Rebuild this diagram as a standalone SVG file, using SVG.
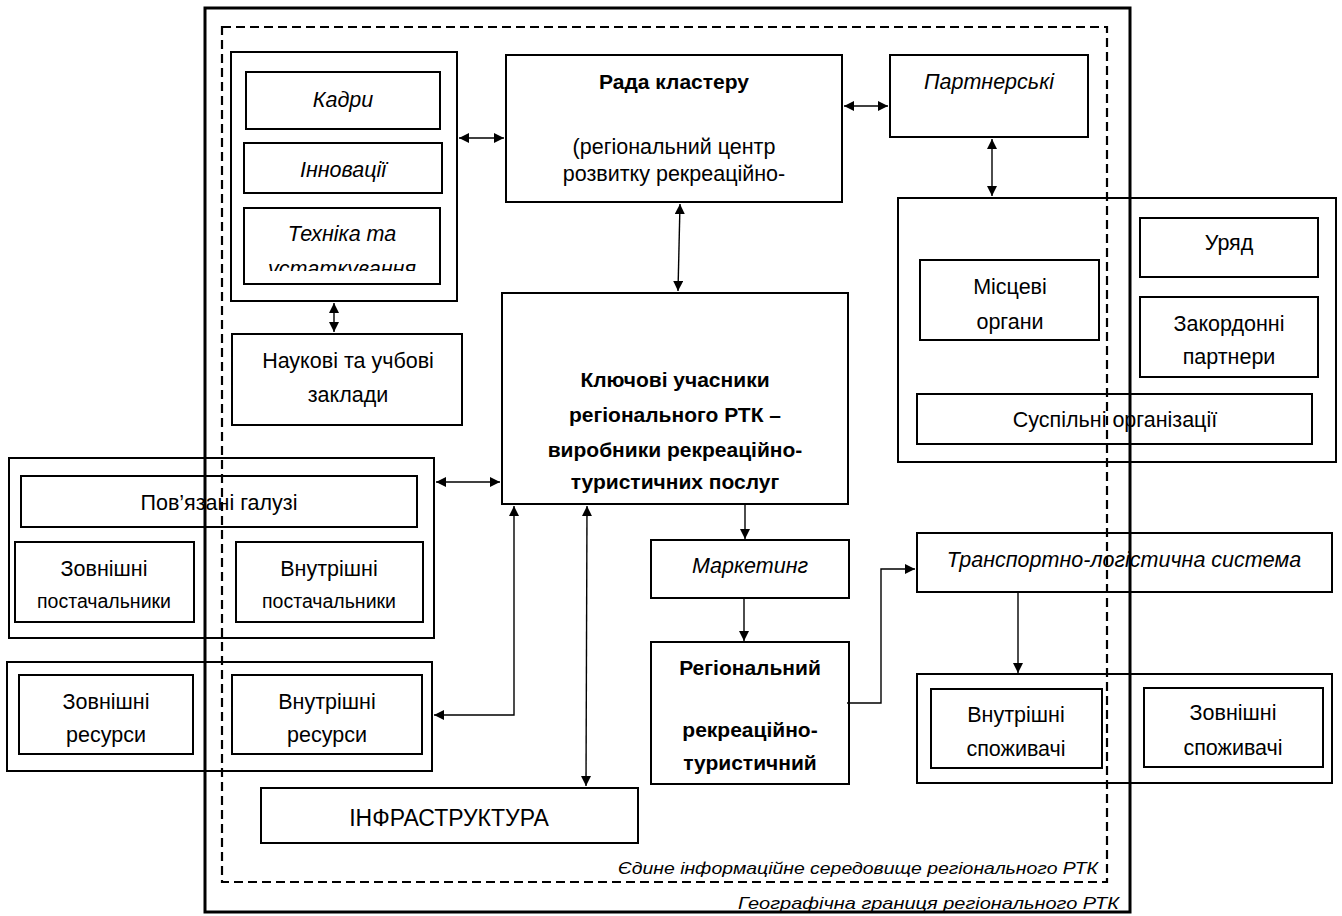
<svg xmlns="http://www.w3.org/2000/svg" width="1342" height="916" viewBox="0 0 1342 916">
<style>
.b{fill:none;stroke:#000;stroke-width:2}
.t{font-family:"Liberation Sans",Arial,sans-serif;font-size:21.5px;fill:#000;text-anchor:middle}
.i{font-style:italic}
.bd{font-weight:bold;font-size:21px}
.c{fill:none;stroke:#000;stroke-width:1.4}
</style>
<defs>
<marker id="ar" markerUnits="userSpaceOnUse" markerWidth="11" markerHeight="10" refX="10" refY="5" orient="auto-start-reverse" viewBox="0 0 10 10">
<path d="M0,0 L10,5 L0,10 z" fill="#000"/>
</marker>
<clipPath id="clipT"><rect x="244" y="208" width="196" height="63"/></clipPath>
</defs>
<rect width="1342" height="916" fill="#fff"/>

<g id="resources-group">
<rect class="b" x="231" y="52" width="226" height="249"/>
</g>
<g id="kadry"><rect class="b" x="246" y="72" width="194" height="57"/><text class="t i" x="343" y="107">Кадри</text></g>
<g id="innovations"><rect class="b" x="244" y="143" width="198" height="50"/><text class="t i" x="343" y="177">Інновації</text></g>
<g id="equipment"><rect class="b" x="244" y="208" width="196" height="76"/>
<g clip-path="url(#clipT)"><text class="t i" x="342" y="241">Техніка та</text><text class="t i" x="342" y="276">устаткування</text></g></g>

<g id="rada"><rect class="b" x="506" y="55" width="336" height="147"/>
<text class="t bd" x="674" y="89">Рада кластеру</text>
<text class="t" x="674" y="154">(регіональний центр</text>
<text class="t" x="674" y="181">розвитку рекреаційно-</text></g>

<g id="partners"><rect class="b" x="890" y="55" width="198" height="82"/><text class="t i" x="989" y="89">Партнерські</text></g>

<g id="science"><rect class="b" x="232" y="334" width="230" height="91"/>
<text class="t" x="348" y="368">Наукові та учбові</text><text class="t" x="348" y="402">заклади</text></g>

<g id="key"><rect class="b" x="502" y="293" width="346" height="211"/>
<text class="t bd" x="675" y="387">Ключові учасники</text>
<text class="t bd" x="675" y="422">регіонального РТК –</text>
<text class="t bd" x="675" y="457">виробники рекреаційно-</text>
<text class="t bd" x="675" y="489">туристичних послуг</text></g>

<g id="gov-group"><rect class="b" x="898" y="198" width="438" height="264"/></g>
<g id="local"><rect class="b" x="920" y="260" width="179" height="80"/>
<text class="t" x="1010" y="294">Місцеві</text><text class="t" x="1010" y="329">органи</text></g>
<g id="govt"><rect class="b" x="1140" y="218" width="178" height="59"/><text class="t" x="1229" y="250">Уряд</text></g>
<g id="foreign"><rect class="b" x="1140" y="297" width="178" height="80"/>
<text class="t" x="1229" y="331">Закордонні</text><text class="t" x="1229" y="364">партнери</text></g>
<g id="public"><rect class="b" x="917" y="394" width="395" height="50"/><text class="t" x="1115" y="427">Суспільні організації</text></g>

<g id="related-group"><rect class="b" x="9" y="458" width="425" height="180"/></g>
<g id="related"><rect class="b" x="21" y="476" width="396" height="51"/><text class="t" x="219" y="510">Пов’язані галузі</text></g>
<g id="ext-suppliers"><rect class="b" x="15" y="542" width="179" height="80"/>
<text class="t" x="104" y="576">Зовнішні</text><text class="t" x="104" y="608" style="font-size:19.5px">постачальники</text></g>
<g id="int-suppliers"><rect class="b" x="236" y="542" width="187" height="80"/>
<text class="t" x="329" y="576">Внутрішні</text><text class="t" x="329" y="608" style="font-size:19.5px">постачальники</text></g>

<g id="res-group"><rect class="b" x="7" y="662" width="425" height="109"/></g>
<g id="ext-res"><rect class="b" x="19" y="675" width="174" height="79"/>
<text class="t" x="106" y="709">Зовнішні</text><text class="t" x="106" y="742">ресурси</text></g>
<g id="int-res"><rect class="b" x="232" y="675" width="190" height="79"/>
<text class="t" x="327" y="709">Внутрішні</text><text class="t" x="327" y="742">ресурси</text></g>

<g id="marketing"><rect class="b" x="651" y="540" width="198" height="58"/><text class="t i" x="750" y="573">Маркетинг</text></g>
<g id="regional"><rect class="b" x="651" y="642" width="198" height="142"/>
<text class="t bd" x="750" y="675">Регіональний</text>
<text class="t bd" x="750" y="737">рекреаційно-</text>
<text class="t bd" x="750" y="770">туристичний</text></g>

<g id="transport"><rect class="b" x="917" y="533" width="415" height="59"/><text class="t i" x="1124" y="567">Транспортно-логістична система</text></g>
<g id="consumers-group"><rect class="b" x="917" y="674" width="415" height="109"/></g>
<g id="int-cons"><rect class="b" x="931" y="689" width="171" height="79"/>
<text class="t" x="1016" y="722">Внутрішні</text><text class="t" x="1016" y="756">споживачі</text></g>
<g id="ext-cons"><rect class="b" x="1144" y="688" width="179" height="79"/>
<text class="t" x="1233" y="720">Зовнішні</text><text class="t" x="1233" y="755">споживачі</text></g>

<g id="infra"><rect class="b" x="261" y="788" width="377" height="55"/><text class="t" x="449" y="826" style="font-size:23px">ІНФРАСТРУКТУРА</text></g>

<g id="connectors">
<line class="c" x1="459" y1="138" x2="504" y2="138" marker-start="url(#ar)" marker-end="url(#ar)"/>
<line class="c" x1="844" y1="106" x2="888" y2="106" marker-start="url(#ar)" marker-end="url(#ar)"/>
<line class="c" x1="992" y1="139" x2="992" y2="196" marker-start="url(#ar)" marker-end="url(#ar)"/>
<line class="c" x1="680" y1="204" x2="678" y2="291" marker-start="url(#ar)" marker-end="url(#ar)"/>
<line class="c" x1="334" y1="303" x2="334" y2="332" marker-start="url(#ar)" marker-end="url(#ar)"/>
<line class="c" x1="436" y1="482" x2="500" y2="482" marker-start="url(#ar)" marker-end="url(#ar)"/>
<polyline class="c" points="514,506 514,715 434,715" marker-start="url(#ar)" marker-end="url(#ar)"/>
<line class="c" x1="587" y1="506" x2="586" y2="786" marker-start="url(#ar)" marker-end="url(#ar)"/>
<line class="c" x1="745" y1="504" x2="745" y2="539" marker-end="url(#ar)"/>
<line class="c" x1="744" y1="598" x2="744" y2="641" marker-end="url(#ar)"/>
<polyline class="c" points="847,703 881,703 881,569 915,569" marker-end="url(#ar)"/>
<line class="c" x1="1018" y1="592" x2="1018" y2="673" marker-end="url(#ar)"/>
</g>

<g id="boundaries">
<rect x="222" y="27" width="885" height="855" fill="none" stroke="#000" stroke-width="2.2" stroke-dasharray="9 5"/>
<rect x="205" y="8" width="925" height="904" fill="none" stroke="#000" stroke-width="3"/>
<text class="t i" x="1098" y="874" style="text-anchor:end;font-size:17px" textLength="480" lengthAdjust="spacingAndGlyphs">Єдине інформаційне середовище регіонального РТК</text>
<text class="t i" x="1119" y="909" style="text-anchor:end;font-size:17px" textLength="381" lengthAdjust="spacingAndGlyphs">Географічна границя регіонального РТК</text>
</g>
</svg>
